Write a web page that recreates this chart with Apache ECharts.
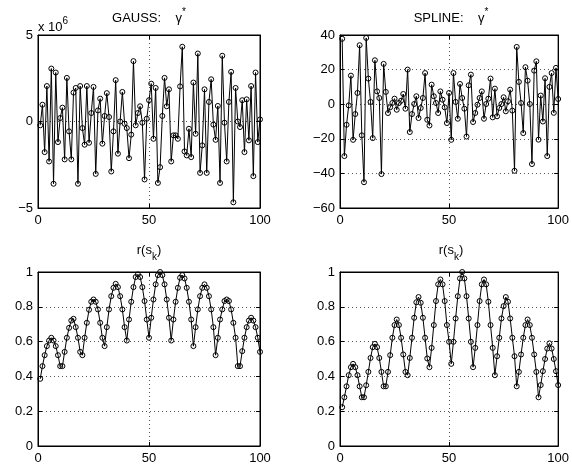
<!DOCTYPE html>
<html><head><meta charset="utf-8">
<script src="https://cdn.jsdelivr.net/npm/echarts/dist/echarts.min.js"></script>
<style>html,body{margin:0;padding:0;background:#fff}#c{width:572px;height:465px}</style>
</head><body><div id="c"></div>
<script>
// sample index k = 1..100
const k = Array.from({length: 100}, (_, i) => i + 1);
const xTicks = [0, 50, 100];

// GAUSS: gamma* (units of 10^6)
const gaussGamma = [
 -0.22, 0.97, -1.77, 2.05, -2.31, 3.06, -3.6, 2.83, -1.19, 0.2,
 0.8, -2.19, 2.52, -0.57, -2.19, 1.67, 1.94, -3.6, 2.05, -0.38,
 -1.34, 2.05, -1.23, 0.49, 2.0, -3.03, 0.64, 1.32, -1.28, 0.32,
 1.64, 0.26, -2.89, -0.57, 2.39, -1.86, 0.0, 1.71, -0.13, -0.38,
 -2.12, -0.76, 3.49, -0.22, 0.49, 0.88, -0.07, -3.35, 0.16, 1.23,
 2.19, -1.0, 1.94, -3.55, -2.64, 0.32, 2.52, 0.88, 1.86, -2.31,
 -0.8, -0.8, -1.0, 2.03, 4.32, -1.73, -1.96, -0.42, -2.06, 2.25,
 -0.71, 3.93, -2.97, -1.38, 1.86, -2.97, 1.13, 2.44, -0.18, -1.06,
 0.9, -3.55, 3.8, -0.07, -2.31, 1.13, 2.87, -4.67, 1.94, 0.0,
 -0.32, 1.23, -1.77, 1.28, -1.09, 2.05, -3.16, 2.83, -1.19, 0.12
];
// SPLINE: gamma*
const splineGamma = [
 37.8, -30, -11.9, -0.7, 16.5, -20.6, -5.7, 6.5, 34.1, -18.0,
 -45.1, 38.3, 14.8, 1.3, -19.6, 25.4, 7.4, 3.6, -40.4, 23.3,
 7.1, -5.1, -1.8, 0.7, 3.2, -3.2, 0.7, 2.0, 5.9, -2.6,
 20.0, -16.1, -5.7, 0.1, 4.6, -8.0, -2.2, 3.6, 18.0, -9.0,
 -12.3, 11.3, 4.6, 0.7, -5.1, 7.4, 2.6, -1.8, -10.9, 6.5,
 -20.6, 18.0, 1.3, -8.4, 11.7, 3.6, -2.6, -18.7, 10.9, 17.1,
 -10.3, -5.1, -0.3, 3.6, 7.4, -8.4, 0.1, 3.2, 14.8, -7.6,
 9.0, -7.0, -2.2, 0.1, 4.0, -4.1, 1.7, 8.4, -3.7, -38.5,
 33.1, 12.9, 0.7, -16.7, 21.4, 13.6, 0.1, -34.6, 19.4, 24.8,
 -20.5, 5, -10, 15, -30, 10, 18, -5, 21, 3
];
// r(s_k), GAUSS
const rGauss = [
 0.386, 0.459, 0.522, 0.574, 0.606, 0.622, 0.606, 0.574, 0.522, 0.459,
 0.459, 0.541, 0.622, 0.679, 0.721, 0.731, 0.683, 0.622, 0.541, 0.522,
 0.622, 0.708, 0.783, 0.829, 0.842, 0.829, 0.785, 0.708, 0.622, 0.574,
 0.683, 0.785, 0.861, 0.909, 0.932, 0.913, 0.861, 0.785, 0.683, 0.606,
 0.727, 0.829, 0.913, 0.971, 0.986, 0.971, 0.913, 0.833, 0.727, 0.622,
 0.737, 0.842, 0.929, 0.982, 1.0, 0.982, 0.929, 0.842, 0.737, 0.606,
 0.727, 0.829, 0.909, 0.967, 0.982, 0.963, 0.909, 0.829, 0.727, 0.574,
 0.683, 0.785, 0.861, 0.909, 0.929, 0.909, 0.861, 0.785, 0.683, 0.522,
 0.622, 0.727, 0.785, 0.833, 0.842, 0.833, 0.785, 0.708, 0.622, 0.459,
 0.459, 0.545, 0.622, 0.683, 0.721, 0.737, 0.721, 0.683, 0.622, 0.541
];
// r(s_k), SPLINE
const rSpline = [
 0.223, 0.280, 0.343, 0.407, 0.453, 0.472, 0.453, 0.407, 0.343, 0.280,
 0.280, 0.349, 0.426, 0.506, 0.568, 0.587, 0.568, 0.506, 0.426, 0.343,
 0.343, 0.426, 0.522, 0.622, 0.695, 0.727, 0.695, 0.622, 0.526, 0.426,
 0.407, 0.506, 0.622, 0.737, 0.826, 0.856, 0.823, 0.737, 0.622, 0.503,
 0.453, 0.564, 0.695, 0.833, 0.929, 0.957, 0.929, 0.833, 0.695, 0.599,
 0.472, 0.599, 0.733, 0.861, 0.963, 1.0, 0.963, 0.861, 0.733, 0.599,
 0.453, 0.564, 0.695, 0.833, 0.929, 0.957, 0.929, 0.829, 0.695, 0.564,
 0.407, 0.516, 0.622, 0.733, 0.804, 0.856, 0.829, 0.733, 0.622, 0.516,
 0.343, 0.426, 0.526, 0.622, 0.695, 0.727, 0.695, 0.622, 0.526, 0.426,
 0.280, 0.35, 0.43, 0.50, 0.56, 0.59, 0.56, 0.50, 0.43, 0.35
];

const panels = [
  {data: gaussGamma,  yMin: -5,  yMax: 5,  yStep: 5,   grid: {left: 38,  top: 35,  width: 222, height: 173}},
  {data: splineGamma, yMin: -60, yMax: 40, yStep: 20,  grid: {left: 340, top: 35,  width: 222, height: 173}},
  {data: rGauss,      yMin: 0,   yMax: 1,  yStep: 0.2, grid: {left: 38,  top: 272, width: 222, height: 174}},
  {data: rSpline,     yMin: 0,   yMax: 1,  yStep: 0.2, grid: {left: 340, top: 272, width: 222, height: 174}}
];

const FONT = '"Liberation Sans", Arial, Helvetica, sans-serif';
const fmt = v => String(+v.toFixed(6)).replace('-', '\u2212');
const axisLine = {show: true, onZero: false, lineStyle: {color: '#000', width: 1}};
const tick = {show: true, inside: true, length: 4, lineStyle: {color: '#000', width: 1}};
const grid = {show: true, lineStyle: {color: '#555', width: 1, type: [1, 3]}};
const label = {color: '#000', fontSize: 13, fontFamily: FONT, formatter: fmt};

const xAxis = [], yAxis = [], series = [];
panels.forEach((p, i) => {
  xAxis.push({gridIndex: i, type: 'value', min: xTicks[0], max: xTicks[2], interval: xTicks[1] - xTicks[0],
    position: 'bottom', axisLine, axisTick: tick, axisLabel: {...label, margin: 6}, splitLine: grid});
  xAxis.push({gridIndex: i, type: 'value', min: xTicks[0], max: xTicks[2], interval: xTicks[1] - xTicks[0],
    position: 'top', axisLine, axisTick: tick, axisLabel: {show: false}, splitLine: {show: false}});
  yAxis.push({gridIndex: i, type: 'value', min: p.yMin, max: p.yMax, interval: p.yStep,
    position: 'left', axisLine, axisTick: tick, axisLabel: {...label, margin: 5}, splitLine: grid});
  yAxis.push({gridIndex: i, type: 'value', min: p.yMin, max: p.yMax, interval: p.yStep,
    position: 'right', axisLine, axisTick: tick, axisLabel: {show: false}, splitLine: {show: false}});
  series.push({
    type: 'line', xAxisIndex: 2 * i, yAxisIndex: 2 * i,
    data: p.data.map((v, j) => [k[j], v]),
    symbol: 'circle', symbolSize: 5, showAllSymbol: true,
    lineStyle: {color: '#000', width: 1},
    itemStyle: {color: 'rgba(0,0,0,0)', borderColor: '#000', borderWidth: 1},
    emphasis: {disabled: true}, animation: false
  });
});

const rich = {
  n: {fontSize: 13, fontFamily: FONT, fill: '#000', color: '#000', lineHeight: 18, verticalAlign: 'bottom'},
  sup: {fontSize: 10, fontFamily: FONT, fill: '#000', color: '#000', lineHeight: 10, verticalAlign: 'top'},
  nt: {fontSize: 13, fontFamily: FONT, fill: '#000', color: '#000', lineHeight: 18, verticalAlign: 'top'},
  sub: {fontSize: 10, fontFamily: FONT, fill: '#000', color: '#000', lineHeight: 8, verticalAlign: 'bottom'}
};
function txt(x, y, text, align) {
  return {type: 'text', x, y, silent: true,
    style: {text, rich, align, textAlign: align, verticalAlign: 'middle', textVerticalAlign: 'middle',
      font: '13px ' + FONT, fill: '#000'}};
}

const chart = echarts.init(document.getElementById('c'), null, {renderer: 'canvas'});
chart.setOption({
  backgroundColor: '#fff',
  animation: false,
  grid: panels.map(p => ({...p.grid, show: true, borderColor: '#000', borderWidth: 1, backgroundColor: '#fff'})),
  xAxis, yAxis, series,
  graphic: [
    txt(149, 16, '{n|GAUSS:    \u03b3}{sup|*}', 'center'),
    txt(451, 16, '{n|SPLINE:    \u03b3}{sup|*}', 'center'),
    txt(38, 25, '{n|x 10}{sup|6}', 'left'),
    txt(149, 253, '{nt|r(s}{sub|k}{nt|)}', 'center'),
    txt(451, 253, '{nt|r(s}{sub|k}{nt|)}', 'center')
  ]
});
</script>
</body></html>
